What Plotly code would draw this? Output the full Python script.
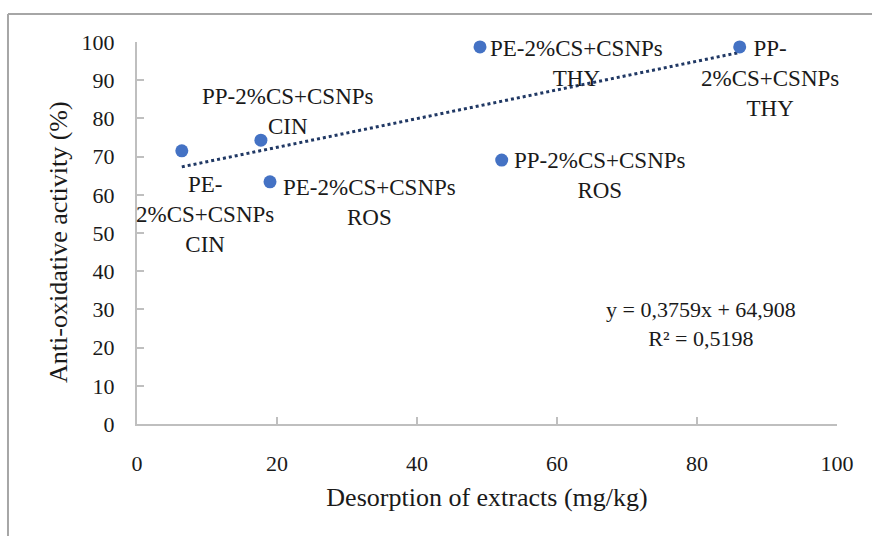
import plotly.graph_objects as go

# ---- data ----
samples = ["PE-<br>2%CS+CSNPs<br>CIN", "PP-2%CS+CSNPs<br>CIN", "PE-2%CS+CSNPs<br>ROS",
           "PE-2%CS+CSNPs<br>THY", "PP-2%CS+CSNPs<br>ROS", "PP-<br>2%CS+CSNPs<br>THY"]
desorption = [6.4, 17.7, 19.0, 49.0, 52.1, 86.1]
activity = [71.5, 74.3, 63.4, 98.7, 69.1, 98.7]
slope = 0.3759
intercept = 64.908
r2 = 0.5198
x_ticks = [0, 20, 40, 60, 80, 100]
y_ticks = [0, 10, 20, 30, 40, 50, 60, 70, 80, 90, 100]
x_title = "Desorption of extracts (mg/kg)"
y_title = "Anti-oxidative activity (%)"

# label placement (pixel offsets from each point)
lab_xshift = [23, 27, 99, 96, 98, 30]
lab_yshift = [-19, -1, 9, 13, 14, 13]
lab_yanchor = ["top", "bottom", "top", "top", "top", "top"]

FONT = "Liberation Serif"
TXT = "#1a1a1a"

xmin, xmax = min(desorption), max(desorption)
trend_x = [xmin, xmax]
trend_y = [slope * v + intercept for v in trend_x]

fig = go.Figure()
fig.add_trace(go.Scatter(x=trend_x, y=trend_y, mode="lines",
                         line=dict(color="#203864", width=3, dash="dot"),
                         hoverinfo="skip", showlegend=False, cliponaxis=False))
fig.add_trace(go.Scatter(x=desorption, y=activity, mode="markers",
                         marker=dict(color="#4472C4", size=13),
                         showlegend=False, cliponaxis=False))

for i, s in enumerate(samples):
    fig.add_annotation(x=desorption[i], y=activity[i], text=s, showarrow=False,
                       xanchor="center", yanchor=lab_yanchor[i],
                       xshift=lab_xshift[i], yshift=lab_yshift[i],
                       font=dict(family=FONT, size=23, color=TXT), align="center")

eq_text = "y = %sx + %s<br>R² = %s" % (str(slope).replace(".", ","),
                                       str(intercept).replace(".", ","),
                                       str(r2).replace(".", ","))
fig.add_annotation(x=80.6, y=26.2, xref="x", yref="y", text=eq_text, showarrow=False,
                   xanchor="center", yanchor="middle", align="center",
                   font=dict(family=FONT, size=22, color=TXT))

# y-axis title (placed as rotated annotation, slightly below plot centre as in source)
fig.add_annotation(x=-0.113, y=0.4764, xref="paper", yref="paper", text=y_title,
                   textangle=-90, showarrow=False, xanchor="center", yanchor="middle",
                   font=dict(family=FONT, size=26, color=TXT))

# outer border (top and left edges visible)
fig.add_shape(type="line", xref="paper", yref="paper", x0=-0.1843, x1=1.06,
              y0=1.0733, y1=1.0733, line=dict(color="#a6a6a6", width=2))
fig.add_shape(type="line", xref="paper", yref="paper", x0=-0.1843, x1=-0.1843,
              y0=1.0733, y1=-0.30, line=dict(color="#a6a6a6", width=2))

axis_common = dict(showgrid=False, zeroline=False, showline=True, linecolor="#bfbfbf",
                   linewidth=2, ticks="inside", ticklen=7, tickcolor="#bfbfbf",
                   tickwidth=1.5, tickfont=dict(family=FONT, size=22, color=TXT))

fig.update_layout(
    width=872, height=536,
    margin=dict(l=137, r=35, t=42, b=112),
    paper_bgcolor="white", plot_bgcolor="white",
    xaxis=dict(range=[0, 100], tickvals=x_ticks, ticklabelstandoff=19,
               title=dict(text=x_title,
                          font=dict(family=FONT, size=26, color=TXT), standoff=12),
               **axis_common),
    yaxis=dict(range=[0, 100], tickvals=y_ticks, ticklabelstandoff=16,
               **axis_common),
)

fig.write_html("out.html")
